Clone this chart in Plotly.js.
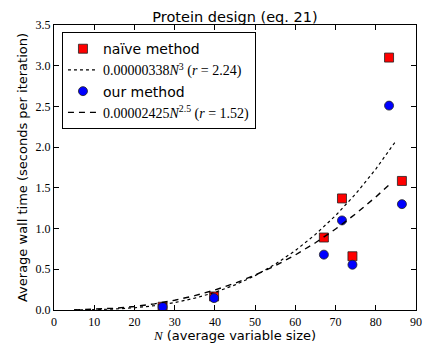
<!DOCTYPE html>
<html>
<head>
<meta charset="utf-8">
<script src="https://cdn.plot.ly/plotly-3.0.1.min.js"></script>
<style>
  body { margin: 0; background: #fff; }
  #chart { width: 436px; height: 349px; }
</style>
</head>
<body>
<div id="chart"></div>
<script>
// measured points (N, seconds per iteration)
var sizeN = [27.0, 39.8, 67.1, 71.6, 74.2, 83.3, 86.5];
var naiveTime = [0.04, 0.166, 0.89, 1.37, 0.66, 3.10, 1.585];
var ourTime = [0.037, 0.146, 0.68, 1.10, 0.556, 2.51, 1.30];

// fitted curves
var fitN3 = [5, 10, 15, 20, 25, 30, 35, 40, 45, 50, 55, 60, 65, 70, 75, 80, 85];
var fitN3Time = [0.0004, 0.0034, 0.0114, 0.027, 0.0528, 0.0913, 0.1449, 0.2163, 0.308, 0.4225, 0.5623, 0.7301, 0.9282, 1.1593, 1.4259, 1.7306, 2.0757];
var fitN25 = [5, 10, 15, 20, 25, 30, 35, 40, 45, 50, 55, 60, 65, 70, 75, 80, 84];
var fitN25Time = [0.0014, 0.0077, 0.0211, 0.0434, 0.0758, 0.1195, 0.1757, 0.2454, 0.3294, 0.4287, 0.544, 0.6762, 0.826, 0.9942, 1.1813, 1.3881, 1.568];

var xTicks = [0, 10, 20, 30, 40, 50, 60, 70, 80, 90];
var yTicks = [0, 0.5, 1.0, 1.5, 2.0, 2.5, 3.0, 3.5];

var serif = "Liberation Serif, DejaVu Serif, serif";
var sans = "DejaVu Sans, sans-serif";

var data = [
  {x: sizeN, y: naiveTime, type: "scatter", mode: "markers", name: "naïve method",
   marker: {symbol: "square", size: 9, color: "#ff0000", line: {color: "#222", width: 0.8}}},
  {x: fitN3, y: fitN3Time, type: "scatter", mode: "lines", line: {color: "black", dash: "dot", width: 1.2},
   name: "<span style='font-family:" + serif + "'>0.00000338<i>N</i><sup>3</sup> (<i>r</i> = 2.24)</span>"},
  {x: sizeN, y: ourTime, type: "scatter", mode: "markers", name: "our method",
   marker: {symbol: "circle", size: 9, color: "#0000ff", line: {color: "#222", width: 0.8}}},
  {x: fitN25, y: fitN25Time, type: "scatter", mode: "lines", line: {color: "black", dash: "6px,5px", width: 1.4},
   name: "<span style='font-family:" + serif + "'>0.00002425<i>N</i><sup>2.5</sup> (<i>r</i> = 1.52)</span>"}
];

var axisBase = {showline: true, linecolor: "black", linewidth: 1.2, mirror: "ticks", ticks: "inside",
  ticklen: 5, tickcolor: "black", showgrid: false, zeroline: false,
  tickfont: {family: serif, size: 12, color: "black"}};

var layout = {
  width: 436, height: 349,
  margin: {l: 54, r: 20, t: 25, b: 39},
  paper_bgcolor: "white", plot_bgcolor: "white",
  font: {family: sans, color: "black"},
  title: {text: "Protein design (eq. 21)", font: {family: sans, size: 14.5, color: "black"},
          x: 0.5, xref: "paper", y: 0.965, yref: "container", xanchor: "center"},
  xaxis: Object.assign({}, axisBase, {range: [0, 90], tickvals: xTicks,
    title: {text: "<span style='font-family:" + serif + "'><i>N</i></span> (average variable size)",
            font: {family: sans, size: 13, color: "black"}, standoff: 2}}),
  yaxis: Object.assign({}, axisBase, {range: [0, 3.5], tickvals: yTicks, tickformat: ".1f",
    title: {text: "Average wall time (seconds per iteration)", font: {family: sans, size: 13, color: "black"}, standoff: 4}}),
  legend: {x: 0.022, y: 0.975, xanchor: "left", yanchor: "top", bgcolor: "white",
           bordercolor: "black", borderwidth: 1, font: {family: sans, size: 14, color: "black"},
           tracegroupgap: 0, itemwidth: 30},
  showlegend: true
};

Plotly.newPlot("chart", data, layout, {displayModeBar: false});
</script>
</body>
</html>
